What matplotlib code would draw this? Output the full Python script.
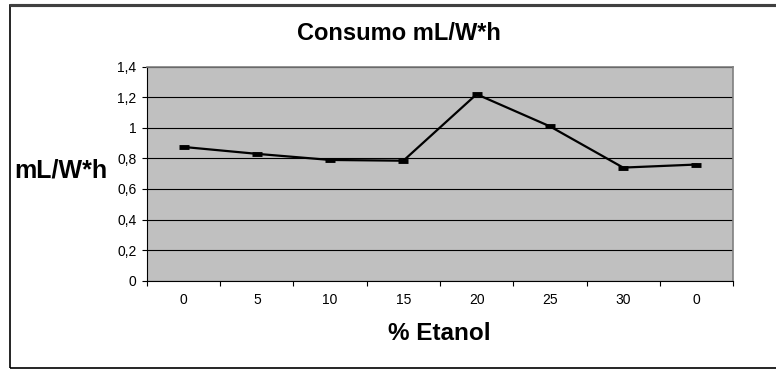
import numpy as np
import matplotlib.pyplot as plt
from matplotlib.patches import Rectangle
from matplotlib.ticker import FuncFormatter

plt.rcParams['font.family'] = ['Liberation Sans', 'DejaVu Sans']

categorias = ['0', '5', '10', '15', '20', '25', '30', '0']
consumo = [0.875, 0.83, 0.79, 0.785, 1.22, 1.01, 0.74, 0.76]

fig = plt.figure(figsize=(7.76, 3.69), dpi=100)
ax = fig.add_axes([0.1894, 0.2393, 0.7552, 0.5799])

# marco exterior del grafico
fig.patches.append(Rectangle((10 / 776, 1 - 368 / 369), 1.0, 363 / 369,
                             transform=fig.transFigure, fill=False,
                             edgecolor='black', linewidth=1.2))
fig.patches.append(Rectangle((10 / 776, 1 - 5 / 369), 1.0, 0,
                             transform=fig.transFigure, fill=False,
                             edgecolor='#404040', linewidth=2.2))

x = np.arange(len(categorias))
ax.set_facecolor('#c0c0c0')
ax.plot(x, consumo, color='black', linewidth=1.6, marker='_',
        markersize=7, markeredgewidth=3.5, zorder=3)

ax.set_xlim(-0.5, len(categorias) - 0.5)
ax.set_ylim(0, 1.4)
ax.set_yticks(np.arange(0, 1.41, 0.2))
ax.yaxis.set_major_formatter(FuncFormatter(
    lambda v, p: ('%g' % round(v, 1)).replace('.', ',')))
ax.grid(axis='y', color='black', linewidth=0.8)
ax.set_axisbelow(True)

# marcas entre categorias, etiquetas centradas
ax.set_xticks(np.arange(-0.5, len(categorias)), minor=False)
ax.set_xticklabels([])
ax.set_xticks(x, minor=True)
ax.set_xticklabels(categorias, minor=True)
ax.tick_params(axis='x', which='minor', length=0, pad=8.5, labelsize=10)
ax.tick_params(axis='x', which='major', length=3.6, direction='out', width=0.8)
ax.tick_params(axis='y', length=3.6, direction='out', width=0.8,
               labelsize=10, pad=4)

for lado in ['top', 'right']:
    ax.spines[lado].set_color('#808080')
    ax.spines[lado].set_linewidth(1.2)
for lado in ['left', 'bottom']:
    ax.spines[lado].set_color('black')
    ax.spines[lado].set_linewidth(0.8)

fig.text(399 / 776, 1 - 34 / 369, 'Consumo mL/W*h', ha='center', va='center',
         fontsize=17, fontweight='bold')
fig.text(61 / 776, 1 - 170 / 369, 'mL/W*h', ha='center', va='center',
         fontsize=18, fontweight='bold')
fig.text(439 / 776, 1 - 334 / 369, '% Etanol', ha='center', va='center',
         fontsize=17.5, fontweight='bold')

plt.savefig('out.png', dpi=100)
